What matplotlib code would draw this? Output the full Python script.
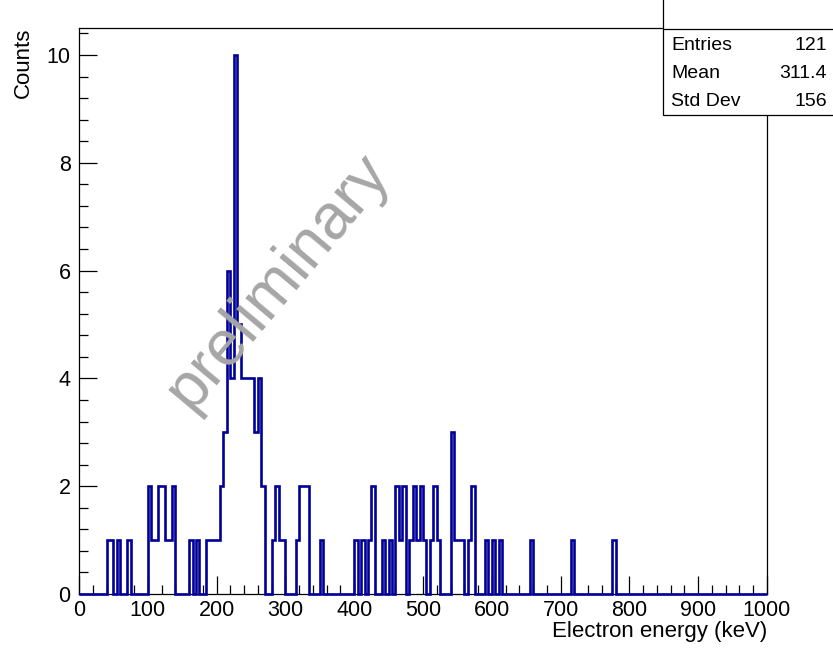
import matplotlib
matplotlib.use("Agg")
import matplotlib.pyplot as plt
import numpy as np
from matplotlib.ticker import MultipleLocator
from matplotlib.patches import Rectangle

plt.rcParams['font.family'] = ['Liberation Sans', 'DejaVu Sans']

# histogram: 5 keV bins from 0 to 1000 keV, only non-empty bins listed
BIN_WIDTH = 5
bin_lo = [40, 45, 55, 70,
          100, 105, 110, 115, 120, 125, 130, 135,
          160, 170, 185, 190, 195, 200,
          205, 210, 215, 220, 225, 230, 235, 240, 245, 250, 255, 260, 265,
          280, 285, 290, 295,
          315, 320, 325, 330,
          350,
          400, 410, 420, 425, 440, 450,
          460, 465, 470, 480, 485, 490, 495,
          500, 510, 515, 520,
          540, 545, 550, 555, 565, 570,
          590, 600, 610,
          655, 715, 775]
bin_counts = [1, 1, 1, 1,
              2, 1, 1, 2, 2, 1, 1, 2,
              1, 1, 1, 1, 1, 1,
              2, 3, 6, 4, 10, 5, 4, 4, 4, 4, 3, 4, 2,
              1, 2, 1, 1,
              1, 2, 2, 2,
              1,
              1, 1, 1, 2, 1, 1,
              2, 1, 2, 1, 2, 1, 2,
              1, 1, 2, 1,
              3, 1, 1, 1, 1, 2,
              1, 1, 1,
              1, 1, 1]

stat_names = ["Entries", "Mean", "Std Dev"]
stat_values = ["121", "311.4", "156"]

edges = np.arange(0, 1000 + BIN_WIDTH, BIN_WIDTH)
counts = np.zeros(len(edges) - 1)
for lo, c in zip(bin_lo, bin_counts):
    counts[lo // BIN_WIDTH] = c

W, H = 833, 648
fig = plt.figure(figsize=(W / 100, H / 100), dpi=100)
ax = fig.add_axes([79 / W, 54 / H, 688 / W, 566 / H])

ax.stairs(counts, edges, color="#000099", linewidth=1.9, clip_on=False, zorder=3)
ax.set_xlim(0, 1000)
ax.set_ylim(0, 10.5)

ax.xaxis.set_major_locator(MultipleLocator(100))
ax.xaxis.set_minor_locator(MultipleLocator(20))
ax.yaxis.set_major_locator(MultipleLocator(2))
ax.yaxis.set_minor_locator(MultipleLocator(0.4))
ax.tick_params(which="both", direction="in", top=False, right=False,
               labelsize=15.5, width=0.9)
ax.tick_params(which="major", length=13)
ax.tick_params(which="minor", length=6.5)
ax.tick_params(axis="y", pad=6)
ax.tick_params(axis="x", pad=4)
for s in ax.spines.values():
    s.set_linewidth(0.9)

ax.set_xlabel("Electron energy (keV)", loc="right", fontsize=16, labelpad=0)
ax.set_ylabel("Counts", loc="top", fontsize=16, labelpad=9)

# stats box
sax = fig.add_axes([663 / W, (H - 115) / H, (W - 663) / W, 115 / H])
sax.set_xlim(0, 1)
sax.set_ylim(0, 1)
sax.axis("off")
sax.add_patch(Rectangle((0, 0), 1.2, 1.2, fill=True, facecolor="white",
                        edgecolor="black", linewidth=0.9, clip_on=False))
sax.plot([0, 1], [(115 - 29) / 115] * 2, color="black", linewidth=0.9)
for i, (n, v) in enumerate(zip(stat_names, stat_values)):
    y = (115 - (46 + 28 * i)) / 115
    sax.text(0.047, y, n, ha="left", va="center", fontsize=14)
    sax.text(0.965, y, v, ha="right", va="center", fontsize=14)

fig.text(278 / W, 1 - 281 / H, "preliminary", rotation=50, fontsize=46,
         color="#a6a6a6", ha="center", va="center")

fig.savefig("out.png", dpi=100)
